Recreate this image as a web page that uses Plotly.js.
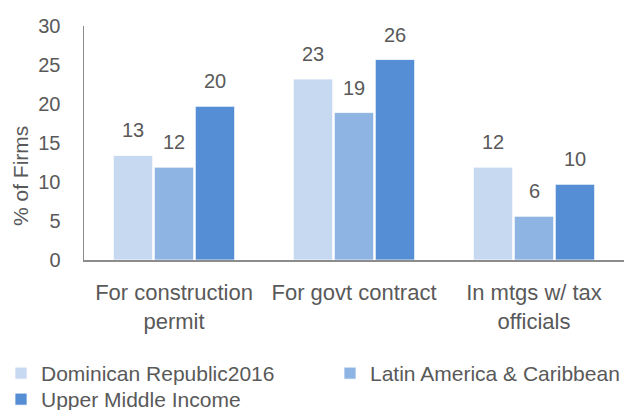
<!DOCTYPE html>
<html>
<head>
<meta charset="utf-8">
<script src="https://cdn.plot.ly/plotly-3.0.1.min.js"></script>
<style>html,body{margin:0;padding:0;background:#fff;}#chart{width:626px;height:410px;}</style>
</head>
<body>
<div id="chart"></div>
<script>
var categories = ['For construction<br>permit', 'For govt contract', 'In mtgs w/ tax<br>officials'];
var seriesNames = ['Dominican Republic2016', 'Latin America & Caribbean', 'Upper Middle Income'];
var drValues = [13.4, 23.2, 11.9];
var lacValues = [11.9, 18.9, 5.6];
var umiValues = [19.7, 25.7, 9.7];
var yTicks = [0, 5, 10, 15, 20, 25, 30];

var colors = ['#C6D9F1', '#8EB4E3', '#558ED5'];
var textColor = '#595959';
var fontFam = '"Liberation Sans", Arial, sans-serif';

var W = 626, H = 410;
var margin = {l: 84, r: 2, t: 26, b: 150, autoexpand: false};
var plotW = W - margin.l - margin.r;
var plotH = H - margin.t - margin.b;
var bargap = 0.317;

var allValues = [drValues, lacValues, umiValues];
var legendIds = ['legend', 'legend2', 'legend3'];

var traces = allValues.map(function (vals, i) {
  return {
    type: 'bar',
    name: seriesNames[i],
    x: categories,
    y: vals,
    legend: legendIds[i],
    marker: {color: colors[i], line: {color: '#ffffff', width: 0.75}},
    hoverinfo: 'skip'
  };
});

var slot = plotW / categories.length * (1 - bargap) / allValues.length;
var annotations = [];
allValues.forEach(function (vals, i) {
  vals.forEach(function (v, j) {
    annotations.push({
      x: categories[j], y: v, xref: 'x', yref: 'y',
      text: String(Math.round(v)),
      showarrow: false, yanchor: 'bottom', xanchor: 'center',
      xshift: (i - 1) * slot, yshift: 12,
      font: {family: fontFam, size: 20, color: textColor}
    });
  });
});
annotations.push({
  text: '% of Firms', textangle: -90, showarrow: false,
  xref: 'paper', yref: 'paper',
  x: (20 - margin.l) / plotW, y: (margin.t + plotH - 176) / plotH,
  xanchor: 'center', yanchor: 'middle',
  font: {family: fontFam, size: 21, color: textColor}
});

function px2x(p) { return (p - margin.l) / plotW; }
function px2y(p) { return (margin.t + plotH - p) / plotH; }
function legendAt(xp, yp) {
  return {
    orientation: 'v', x: px2x(xp), xanchor: 'left',
    y: px2y(yp), yanchor: 'top',
    font: {family: fontFam, size: 21, color: textColor},
    bgcolor: 'rgba(0,0,0,0)', borderwidth: 0
  };
}

var layout = {
  width: W, height: H,
  margin: margin,
  paper_bgcolor: '#ffffff', plot_bgcolor: '#ffffff',
  barmode: 'group', bargap: bargap, bargroupgap: 0.04,
  font: {family: fontFam, color: textColor},
  xaxis: {
    type: 'category', showline: true, linecolor: '#8c8c8c', linewidth: 1.5,
    showgrid: false, ticks: '', ticklabelstandoff: 12,
    tickfont: {family: fontFam, size: 22, color: textColor},
    fixedrange: true
  },
  yaxis: {
    range: [0, 30], tickvals: yTicks, showline: true, linecolor: '#8c8c8c', linewidth: 1.5,
    showgrid: false, zeroline: false, ticks: '', ticklabelstandoff: 18,
    tickfont: {family: fontFam, size: 20, color: textColor},
    fixedrange: true
  },
  legend: legendAt(1, 353),
  legend2: legendAt(330, 353),
  legend3: legendAt(1, 379),
  showlegend: true,
  annotations: annotations
};

Plotly.newPlot('chart', traces, layout, {staticPlot: true, displayModeBar: false});
</script>
</body>
</html>
